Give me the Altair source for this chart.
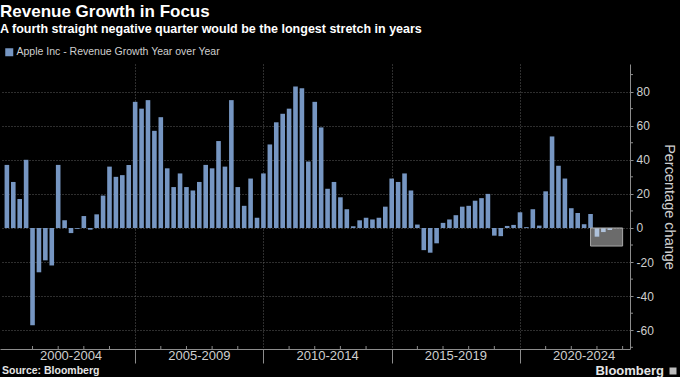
import altair as alt
import pandas as pd

# ---- data ----
start_year = 2000
vals_2000_2004 = [37, 27, 17, 40, -57, -26, -19, -22, 37, 4.5, -3, -0.5, 7, -1, 8, 19, 36, 30, 31, 37]
vals_2005_2009 = [74, 70, 75, 57, 65, 35, 24, 32, 24, 22, 27, 37, 35, 51, 36, 75, 24, 13, 29, 6]
vals_2010_2014 = [32, 49, 62, 67, 70, 83, 82, 39, 74, 59, 23, 27, 18, 11, 1, 4.5, 6, 5, 6, 12.5]
vals_2015_2019 = [29, 27, 32, 22, 2, -13, -14.5, -9, 3, 5, 7.5, 12.5, 13, 16, 17.5, 20, -4.5, -4.8, 1.2, 1.8]
vals_2020_2023 = [9.2, 0.5, 11, 1.4, 21.5, 53.7, 36.5, 29, 11.6, 8.8, 2.2, 8.2, -5.1, -2.4, -1.2]

period_labels = ["2000-2004", "2005-2009", "2010-2014", "2015-2019", "2020-2024"]
period_centers = [2002.5, 2007.5, 2012.5, 2017.5, 2022.5]
period_bounds = [2005, 2010, 2015, 2020]
minor_years = [y for y in range(2001, 2025) if y not in period_bounds]
y_major = [-60, -40, -20, 0, 20, 40, 60, 80]
y_minor = [-70, -50, -30, -10, 10, 30, 50, 70, 90]

box_x = [2022.75, 2024.0]
box_y = [0, -10.6]

series_name = "Apple Inc - Revenue Growth Year over Year"

values = vals_2000_2004 + vals_2005_2009 + vals_2010_2014 + vals_2015_2019 + vals_2020_2023
quarter_t = [start_year + i / 4 for i in range(len(values))]

# ---- layout / style ----
W, H = 630, 285
xdom = [1999.927, 2024.093]
ydom = [-71, 96.2]
BAR = "#7696c2"
AXIS = "#8c8c8c"
GRID = "#5c5c5c"
TXT = "#cfcfcf"
REG = "Liberation Sans"

df = pd.DataFrame({"t": quarter_t, "v": values, "s": series_name})
xs = alt.Scale(domain=xdom, nice=False, zero=False)
ys = alt.Scale(domain=ydom, nice=False, zero=False)

bars = alt.Chart(df).mark_bar(size=4.6).encode(
    x=alt.X("t:Q", scale=xs, axis=alt.Axis(
        values=period_bounds, labels=False, tickSize=14, title=None,
        grid=True, gridDash=[1, 2], gridColor=GRID,
        domainColor=AXIS, tickColor=AXIS)),
    y=alt.Y("v:Q", scale=ys, axis=alt.Axis(
        orient="right", values=y_major,
        labelExpr="'' + datum.value",
        grid=True, gridDash=[1, 2], gridColor=GRID,
        tickSize=3, tickColor=AXIS, domainColor=AXIS,
        labelColor=TXT, labelFont=REG, labelFontSize=12, labelPadding=3,
        title="Percentage change", titleColor=TXT, titleFont=REG,
        titleFontSize=14.5, titleFontWeight="normal", titlePadding=8)),
    color=alt.Color("s:N", scale=alt.Scale(range=[BAR]), legend=alt.Legend(
        title=None, orient="none", legendX=4, legendY=-17, symbolType="square",
        symbolSize=64, symbolStrokeWidth=0, labelColor=TXT, labelFont=REG,
        labelFontSize=10.5, labelLimit=0, labelOffset=2, padding=0)),
)

box_df = pd.DataFrame({"x": [box_x[0]], "x2": [box_x[1]], "y": [box_y[0]], "y2": [box_y[1]]})
box = alt.Chart(box_df).mark_rect(fill="white", fillOpacity=0.42, stroke="#a8a8a8", strokeWidth=1).encode(
    x=alt.X("x:Q", scale=xs), x2="x2",
    y=alt.Y("y:Q", scale=ys), y2="y2")

minor_x = alt.Chart(pd.DataFrame({"yr": minor_years})).mark_rule(color=AXIS).encode(
    x=alt.X("yr:Q", scale=xs), y=alt.value(H - 3), y2=alt.value(H))

minor_y = alt.Chart(pd.DataFrame({"m": y_minor})).mark_rule(color=AXIS).encode(
    y=alt.Y("m:Q", scale=ys), x=alt.value(W), x2=alt.value(W + 3))

plabels = alt.Chart(pd.DataFrame({"c": period_centers, "lab": period_labels})).mark_text(
    color=TXT, font=REG, fontSize=13, baseline="middle").encode(
    x=alt.X("c:Q", scale=xs), y=alt.value(H + 7), text="lab:N")

source = alt.Chart(pd.DataFrame({"txt": ["Source: Bloomberg"]})).mark_text(
    align="left", baseline="middle", font=REG, fontSize=10.5, fontWeight="bold", color="#e6e6e6").encode(
    x=alt.value(2), y=alt.value(H + 22), text="txt:N")

brand = alt.Chart(pd.DataFrame({"txt": ["Bloomberg"]})).mark_text(
    align="right", baseline="middle", font=REG, fontSize=13, fontWeight="bold", color="#e6e6e6").encode(
    x=alt.value(664), y=alt.value(H + 22), text="txt:N")

logo = alt.Chart(pd.DataFrame({"k": [1]})).mark_square(size=49, color="#bdbdbd", opacity=1).encode(
    x=alt.value(673), y=alt.value(H + 22))

chart = alt.layer(bars, box, minor_x, minor_y, plabels, source, brand, logo).properties(
    width=W, height=H,
    autosize=alt.AutoSizeParams(type="none"),
    padding={"left": 0, "top": 64, "right": 50, "bottom": 28},
    background="black",
    title=alt.TitleParams(
        text="Revenue Growth in Focus",
        subtitle="A fourth straight negative quarter would be the longest stretch in years",
        anchor="start", font=REG, fontSize=17, fontWeight="bold", color="white",
        subtitleFont=REG, subtitleFontSize=12.5, subtitleFontWeight="bold",
        subtitleColor="white", subtitlePadding=2, offset=11),
).configure_view(stroke=None)

chart.save("out.html", embed_options={"renderer": "svg", "actions": False})
